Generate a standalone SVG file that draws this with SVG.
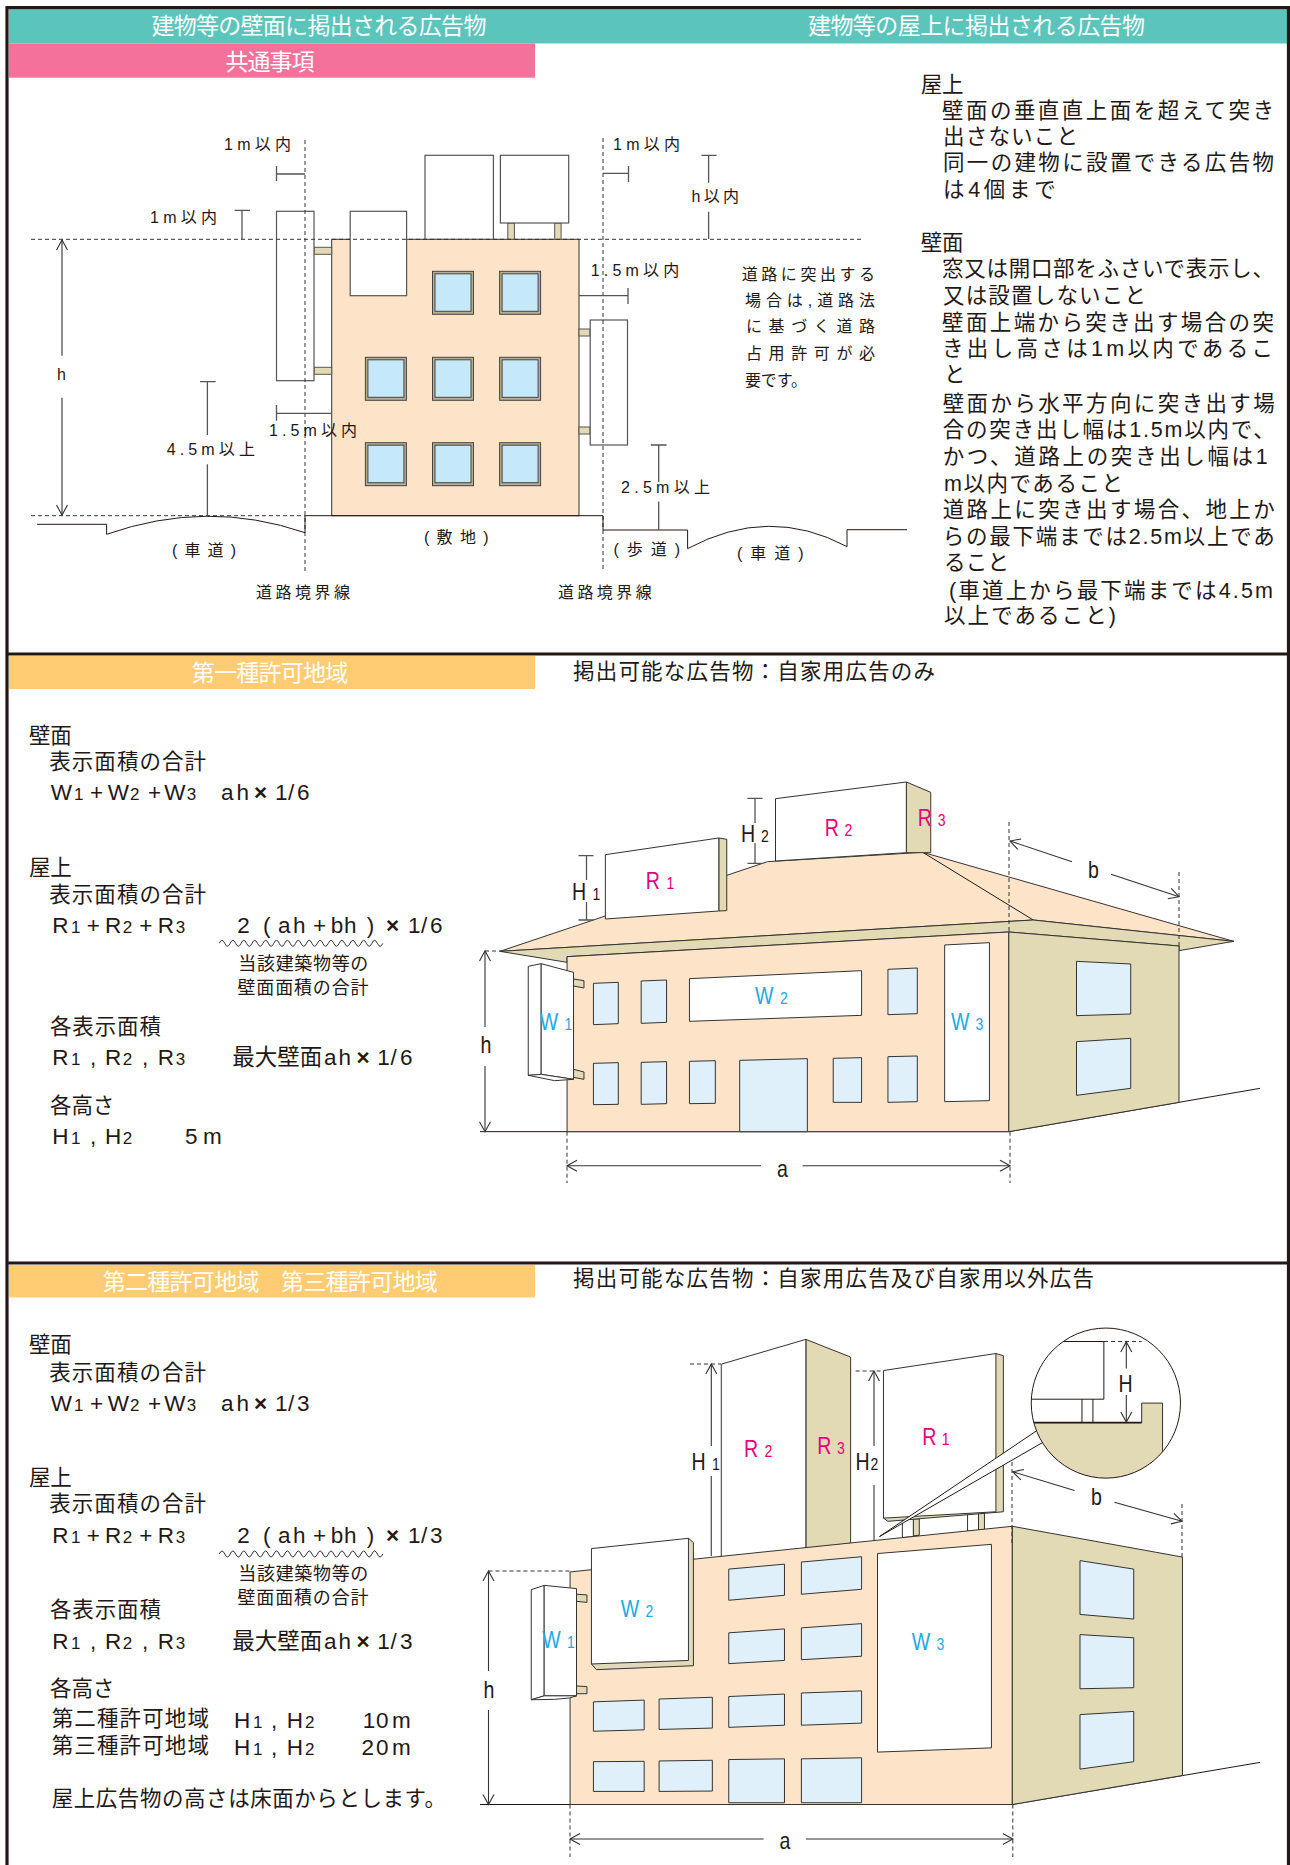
<svg xmlns="http://www.w3.org/2000/svg" width="1290" height="1865" viewBox="0 0 1290 1865">
<style>
text{font-family:"Liberation Sans","Noto Sans CJK JP",sans-serif;fill:#231815}
.hd{font-size:23px;fill:#fff;dominant-baseline:central}
.s{font-size:16px;dominant-baseline:central}
.m{font-size:21.5px;dominant-baseline:central}
.n{font-size:18px;dominant-baseline:central}
.f{font-size:22.5px}
.f tspan.d{font-size:17px}
.x{font-weight:bold}
.l{font-size:23px}
.l tspan.d{font-size:16.5px}
.mag{fill:#e5007f}.cy{fill:#1fa9e6}
.mag tspan{fill:#e5007f}.cy tspan{fill:#1fa9e6}
.ln{fill:none;stroke:#231815;stroke-width:1}
.g{fill:none;stroke:#555;stroke-width:1.3}
.ds{fill:none;stroke:#333;stroke-width:1;stroke-dasharray:4 3}
.ar{fill:none;stroke:#333;stroke-width:1.1;marker-start:url(#oa);marker-end:url(#oa)}
.ar1{fill:none;stroke:#333;stroke-width:1.1;marker-start:url(#oa)}
.ar2{fill:none;stroke:#333;stroke-width:1.1;marker-end:url(#oa)}
.iso *{vector-effect:non-scaling-stroke}
.pe{fill:#fde4c9;stroke:#333;stroke-width:1}
.ta{fill:#e2d9b5;stroke:#333;stroke-width:1}
.wh{fill:#fff;stroke:#333;stroke-width:1}
.bl{fill:#dff0fa;stroke:#333;stroke-width:1}
.pw{fill:#fff;stroke:#555;stroke-width:1.2}
</style>
<defs>
<marker id="oa" markerUnits="userSpaceOnUse" markerWidth="14" markerHeight="14" refX="11" refY="7" orient="auto-start-reverse" overflow="visible"><path d="M1 1.5L11 7L1 12.5" fill="none" stroke="#333" stroke-width="1.1"/></marker>
<g id="pwin"><rect x="0" y="0" width="41" height="43" fill="#b8ad93" stroke="#444" stroke-width="1"/><rect x="2.5" y="2.5" width="36" height="37.5" fill="#c5e9fa" stroke="#444" stroke-width="1"/></g>
<path id="sq" d="M0 0q2.72-6 5.45 0t5.45 0t5.45 0t5.45 0t5.45 0t5.45 0t5.45 0t5.45 0t5.45 0t5.45 0t5.45 0t5.45 0t5.45 0t5.45 0t5.45 0t5.45 0t5.45 0t5.45 0t5.45 0t5.45 0t5.45 0t5.45 0t5.45 0t5.45 0t5.45 0t5.45 0t5.45 0t5.45 0t5.45 0t5.45 0" fill="none" stroke="#333" stroke-width="1"/>
<clipPath id="lens"><ellipse cx="1258" cy="263" rx="150" ry="212"/></clipPath>
</defs>
<rect width="1290" height="1865" fill="#fff"/>

<g id="bands">
<rect x="9" y="9.3" width="1278" height="34.2" fill="#5bc5bc"/>
<rect x="9" y="43.5" width="526" height="34.2" fill="#f4719c"/>
<rect x="9" y="656" width="526" height="33" fill="#ffcc73"/>
<rect x="9" y="1265" width="526" height="32.5" fill="#ffcc73"/>
<text class="hd" x="151.4" y="26" textLength="335">建物等の壁面に掲出される広告物</text>
<text class="hd" x="808" y="26" textLength="337">建物等の屋上に掲出される広告物</text>
<text class="hd" x="225.5" y="61.7" textLength="89">共通事項</text>
<text class="hd" x="191.7" y="672.7" textLength="156.6">第一種許可地域</text>
<text class="hd" x="102.7" y="1281.5" textLength="335">第二種許可地域　第三種許可地域</text>
</g>
<g id="frame">
<path d="M7 1865V7.7H1288.5V1865" fill="none" stroke="#231815" stroke-width="3.2"/>
<path d="M7 654H1288.5M7 1263H1288.5" fill="none" stroke="#231815" stroke-width="3"/>
</g>

<g id="plan-building">
<rect x="331.7" y="239.3" width="247.3" height="276.4" fill="#fde4c9" stroke="#333"/>
<use href="#pwin" x="432.5" y="271.3"/><use href="#pwin" x="499.6" y="271.3"/>
<use href="#pwin" x="365.4" y="357.3"/><use href="#pwin" x="432.5" y="357.3"/><use href="#pwin" x="499.6" y="357.3"/>
<use href="#pwin" x="365.4" y="442.7"/><use href="#pwin" x="432.5" y="442.7"/><use href="#pwin" x="499.6" y="442.7"/>
</g>
<g id="plan-signs" fill="#e2d9b5" stroke="#555">
<rect x="314" y="247.3" width="17.7" height="7"/><rect x="314" y="367.3" width="17.7" height="7"/>
<rect x="579" y="329" width="11" height="7"/><rect x="579" y="427" width="11" height="7"/>
<rect x="507.8" y="223" width="6.6" height="16.3"/><rect x="554.7" y="223" width="6.4" height="16.3"/>
<rect class="pw" x="276.5" y="211.3" width="37.5" height="169.4"/>
<rect class="pw" x="350.2" y="211.3" width="56.4" height="84.4"/>
<rect class="pw" x="425" y="155.3" width="68.4" height="84"/>
<rect class="pw" x="500.4" y="155.3" width="68.3" height="67.7"/>
<rect class="pw" x="590.2" y="320" width="37.3" height="125"/>
</g>
<g id="plan-ground">
<path class="ds" d="M31 239.3H862M31 515.7H305"/>
<path class="ds" d="M305 140V573M603 138V569"/>
<path class="ln" d="M37 524.3H106.6V534.3Q207 499 305 532.7V515.7H603V530H687.6V548.6Q769 505 847 546.6V529.7H907"/>
</g>
<g id="plan-dims">
<path class="ar" d="M62 240V355.7M62 397.7V515"/>
<path class="g" d="M200 381.7H215.6M207.4 381.7V435M207.4 464.3V515.7" stroke-width="1"/>
<path class="g" d="M276.5 405V420.7M276.5 413.3H331.7"/>
<path class="g" d="M276.5 166V181M276.5 174H305"/>
<path class="g" d="M234.6 210.3H250M242 210.3V239"/>
<path class="g" d="M603 173.3H628.5M628.5 166V182"/>
<path class="g" d="M701.5 155.3H716.6M708.6 155.3V182.7M708.6 211.7V239"/>
<path class="g" d="M579 295.7H628M628 288V304"/>
<path class="g" d="M650.8 445H666.6M658.7 445V482M658.7 501.5V530"/>
</g>
<g id="plan-labels">
<text class="s" x="224" y="144" textLength="67">1m以内</text>
<text class="s" x="150" y="217" textLength="67">1m以内</text>
<text class="s" x="613" y="144" textLength="67">1m以内</text>
<text class="s" x="691.4" y="196.7" textLength="47.6">h以内</text>
<text class="s" x="590.7" y="270.7" textLength="88.5">1.5m以内</text>
<text class="s" x="269" y="430" textLength="88">1.5m以内</text>
<text class="s" x="166.7" y="449" textLength="88.3">4.5m以上</text>
<text class="s" x="621" y="487" textLength="89">2.5m以上</text>
<text class="s" x="57" y="374">h</text>
<text class="s" x="172" y="550" textLength="64">(車道)</text>
<text class="s" x="424" y="537.3" textLength="64.5">(敷地)</text>
<text class="s" x="613.5" y="549" textLength="66.5">(歩道)</text>
<text class="s" x="737" y="553" textLength="66.6">(車道)</text>
<text class="s" x="256" y="592.7" textLength="94">道路境界線</text>
<text class="s" x="558" y="592.7" textLength="93.7">道路境界線</text>
<text class="s" x="741.8" y="274.7" textLength="133.2">道路に突出する</text>
<text class="s" x="745" y="300.7" textLength="130">場合は,道路法</text>
<text class="s" x="746" y="326.7" textLength="129">に基づく道路</text>
<text class="s" x="746" y="353" textLength="129">占用許可が必</text>
<text class="s" x="745" y="380" textLength="62">要です。</text>
</g>
<g id="rules">
<text class="m" x="920.7" y="85" textLength="42.8">屋上</text>
<text class="m" x="942" y="111" textLength="332">壁面の垂直直上面を超えて突き</text>
<text class="m" x="943" y="137" textLength="135">出さないこと</text>
<text class="m" x="943" y="163" textLength="331">同一の建物に設置できる広告物</text>
<text class="m" x="943" y="190" textLength="112.7">は4個まで</text>
<text class="m" x="920.7" y="242.7" textLength="42.8">壁面</text>
<text class="m" x="942" y="269.3" textLength="332">窓又は開口部をふさいで表示し、</text>
<text class="m" x="943" y="296" textLength="203">又は設置しないこと</text>
<text class="m" x="942" y="322.7" textLength="332">壁面上端から突き出す場合の突</text>
<text class="m" x="942" y="348.7" textLength="331">き出し高さは1m以内であるこ</text>
<text class="m" x="944" y="375">と</text>
<text class="m" x="942.7" y="403.5" textLength="332">壁面から水平方向に突き出す場</text>
<text class="m" x="942.7" y="429.7" textLength="332">合の突き出し幅は1.5m以内で、</text>
<text class="m" x="942.7" y="456.7" textLength="325">かつ、道路上の突き出し幅は1</text>
<text class="m" x="944" y="483.6" textLength="179">m以内であること</text>
<text class="m" x="942.7" y="509.5" textLength="332">道路上に突き出す場合、地上か</text>
<text class="m" x="942.7" y="536.8" textLength="332">らの最下端までは2.5m以上であ</text>
<text class="m" x="944" y="563.4" textLength="65">ること</text>
<text class="m" x="949" y="590.7" textLength="324">(車道上から最下端までは4.5m</text>
<text class="m" x="944" y="616" textLength="172">以上であること)</text>
</g>

<text class="m" x="573" y="671.7" textLength="362">掲出可能な広告物：自家用広告のみ</text>
<text class="m" x="573" y="1279" textLength="521">掲出可能な広告物：自家用広告及び自家用以外広告</text>

<g id="section1-text">
<text class="m" x="29" y="736" textLength="42.7">壁面</text>
<text class="m" x="49.3" y="762.3" textLength="156.7">表示面積の合計</text>
<text class="f" y="800"><tspan x="50.7">W</tspan><tspan class="d" x="74">1</tspan><tspan x="90">+</tspan><tspan x="107.7">W</tspan><tspan class="d" x="130">2</tspan><tspan x="148">+</tspan><tspan x="164.3">W</tspan><tspan class="d" x="186.7">3</tspan><tspan x="221">a</tspan><tspan x="236.5">h</tspan><tspan class="x" x="254">×</tspan><tspan x="275">1</tspan><tspan x="288">/</tspan><tspan x="297">6</tspan></text>
<text class="m" x="29" y="868.3" textLength="42.7">屋上</text>
<text class="m" x="49.3" y="895" textLength="156.7">表示面積の合計</text>
<text class="f" y="933.3"><tspan x="52.3">R</tspan><tspan class="d" x="71">1</tspan><tspan x="86.7">+</tspan><tspan x="105">R</tspan><tspan class="d" x="122.7">2</tspan><tspan x="139.3">+</tspan><tspan x="157.7">R</tspan><tspan class="d" x="175.7">3</tspan><tspan x="237.3">2</tspan><tspan x="263">(</tspan><tspan x="278">a</tspan><tspan x="293">h</tspan><tspan x="313">+</tspan><tspan x="330.7">b</tspan><tspan x="344">h</tspan><tspan x="366.7">)</tspan><tspan class="x" x="386">×</tspan><tspan x="408">1</tspan><tspan x="421">/</tspan><tspan x="430">6</tspan></text>
<use href="#sq" x="219.3" y="943.3"/>
<text class="n" x="238.3" y="964.3" textLength="130">当該建築物等の</text>
<text class="n" x="237.5" y="987.7" textLength="131">壁面面積の合計</text>
<text class="m" x="50" y="1027.3" textLength="111">各表示面積</text>
<text class="f" y="1065"><tspan x="52.3">R</tspan><tspan class="d" x="71">1</tspan><tspan x="90">,</tspan><tspan x="105">R</tspan><tspan class="d" x="122.7">2</tspan><tspan x="142">,</tspan><tspan x="157.7">R</tspan><tspan class="d" x="175.7">3</tspan></text>
<text class="f" y="1065"><tspan x="232.3">最大壁面</tspan><tspan x="324">a</tspan><tspan x="338.5">h</tspan><tspan class="x" x="356.5">×</tspan><tspan x="377.3">1</tspan><tspan x="390.5">/</tspan><tspan x="400">6</tspan></text>
<text class="m" x="50" y="1106" textLength="64.3">各高さ</text>
<text class="f" y="1144"><tspan x="52.3">H</tspan><tspan class="d" x="71">1</tspan><tspan x="90">,</tspan><tspan x="105">H</tspan><tspan class="d" x="122.7">2</tspan><tspan x="185">5</tspan><tspan x="203">m</tspan></text>
</g>

<g id="section2-text">
<text class="m" x="29" y="1344.9" textLength="42.7">壁面</text>
<text class="m" x="49.3" y="1372.7" textLength="156.7">表示面積の合計</text>
<text class="f" y="1410.5"><tspan x="50.7">W</tspan><tspan class="d" x="74">1</tspan><tspan x="90">+</tspan><tspan x="107.7">W</tspan><tspan class="d" x="130">2</tspan><tspan x="148">+</tspan><tspan x="164.3">W</tspan><tspan class="d" x="186.7">3</tspan><tspan x="221">a</tspan><tspan x="236.5">h</tspan><tspan class="x" x="254">×</tspan><tspan x="275">1</tspan><tspan x="288">/</tspan><tspan x="297">3</tspan></text>
<text class="m" x="29" y="1478" textLength="42.7">屋上</text>
<text class="m" x="49.3" y="1504" textLength="156.7">表示面積の合計</text>
<text class="f" y="1542.8"><tspan x="52.3">R</tspan><tspan class="d" x="71">1</tspan><tspan x="86.7">+</tspan><tspan x="105">R</tspan><tspan class="d" x="122.7">2</tspan><tspan x="139.3">+</tspan><tspan x="157.7">R</tspan><tspan class="d" x="175.7">3</tspan><tspan x="237.3">2</tspan><tspan x="263">(</tspan><tspan x="278">a</tspan><tspan x="293">h</tspan><tspan x="313">+</tspan><tspan x="330.7">b</tspan><tspan x="344">h</tspan><tspan x="366.7">)</tspan><tspan class="x" x="386">×</tspan><tspan x="408">1</tspan><tspan x="421">/</tspan><tspan x="430">3</tspan></text>
<use href="#sq" x="219.3" y="1554"/>
<text class="n" x="238.3" y="1574.4" textLength="130">当該建築物等の</text>
<text class="n" x="237.5" y="1597.6" textLength="131">壁面面積の合計</text>
<text class="m" x="50" y="1610.3" textLength="111">各表示面積</text>
<text class="f" y="1648.5"><tspan x="52.3">R</tspan><tspan class="d" x="71">1</tspan><tspan x="90">,</tspan><tspan x="105">R</tspan><tspan class="d" x="122.7">2</tspan><tspan x="142">,</tspan><tspan x="157.7">R</tspan><tspan class="d" x="175.7">3</tspan></text>
<text class="f" y="1648.5"><tspan x="232.3">最大壁面</tspan><tspan x="324">a</tspan><tspan x="338.5">h</tspan><tspan class="x" x="356.5">×</tspan><tspan x="377.3">1</tspan><tspan x="390.5">/</tspan><tspan x="400">3</tspan></text>
<text class="m" x="50" y="1689.4" textLength="64.3">各高さ</text>
<text class="m" x="51.7" y="1719" textLength="157.3">第二種許可地域</text>
<text class="f" y="1727.6"><tspan x="234">H</tspan><tspan class="d" x="253">1</tspan><tspan x="271">,</tspan><tspan x="286.7">H</tspan><tspan class="d" x="305">2</tspan><tspan x="362.7">1</tspan><tspan x="376">0</tspan><tspan x="392">m</tspan></text>
<text class="m" x="51.7" y="1746" textLength="157.3">第三種許可地域</text>
<text class="f" y="1754.6"><tspan x="234">H</tspan><tspan class="d" x="253">1</tspan><tspan x="271">,</tspan><tspan x="286.7">H</tspan><tspan class="d" x="305">2</tspan><tspan x="361.5">2</tspan><tspan x="376">0</tspan><tspan x="392">m</tspan></text>
<text class="m" x="51.7" y="1799" textLength="394.3">屋上広告物の高さは床面からとします。</text>
</g>

<g id="building-1" class="iso" transform="translate(480,760) scale(.4975,.33333)">
<path class="ln" d="M0 1115H1063L1568 985"/>
<path class="pe" d="M40 574L578 305L890 277L1515 544L1112 480Z"/>
<path class="ln" d="M890 277L1112 480"/>
<path class="ta" d="M40 574L1112 480L1515 544L1405 572V558L1063 516L175 590V607Z"/>
<path class="pe" d="M175 590L1063 516V1115H175Z"/>
<path class="ta" d="M1063 516L1405 558V1027L1063 1115Z"/>
<path class="bl" d="M228 670L278 667V791L228 794Z"/><path class="bl" d="M324 663L375 660V787L324 790Z"/>
<path class="wh" d="M421 656L767 632V766L421 784Z"/>
<path class="bl" d="M820 628L879 624V761L820 764Z"/>
<path class="wh" d="M934 555L1024 548V1022L934 1025Z"/>
<path class="bl" d="M228 910L278 908V1033L228 1034Z"/><path class="bl" d="M324 907L375 905V1031L324 1033Z"/>
<path class="bl" d="M421 904L473 902V1030L421 1031Z"/><path class="bl" d="M522 901L658 896V1115H522Z"/>
<path class="bl" d="M710 895L767 893V1027L710 1027Z"/><path class="bl" d="M820 890L879 888V1025L820 1027Z"/>
<path class="bl" d="M1199 604L1308 612V762L1199 767Z"/><path class="bl" d="M1199 845L1308 835V985L1199 1006Z"/>
<g id="b1-w1"><path class="ta" d="M188 657L209 662V684L188 678Z"/><path class="ta" d="M188 928L209 936V958L188 952Z"/>
<path class="wh" d="M97 619L123 611V943L97 946Z"/><path class="wh" d="M123 611L188 637V958L123 943Z"/><path class="wh" d="M97 946L123 943L188 958L150 962Z"/></g>
<g id="b1-r1"><path class="ta" d="M480 234L496 238V452L480 453Z"/><path class="wh" d="M252 284L480 234V453L252 477Z"/></g>
<g id="b1-r2"><path class="ta" d="M857 66L906 97V278H857Z"/><path class="wh" d="M594 116L857 66V278L594 303Z"/></g>
</g>
<g id="building-1-dims">
<path class="g" d="M578.5 855.7H593.5M586.5 855.7V880M586.5 902V920M578.5 920H593.5" stroke-width="1"/>
<path class="g" d="M747.5 798.3H762.5M755 798.3V823M755 843V863.3M747.5 863.3H762.5" stroke-width="1"/>
<path class="ds" d="M485 951H500M567 1131.7V1183M1010 1131.7V1183M1009 822V932M1179 872V946"/>
<path class="ar1" d="M485 951V1027"/><path class="ar2" d="M485 1066V1131.7"/>
<path class="ar1" d="M567 1165.7H761"/><path class="ar2" d="M802.5 1165.7H1010"/>
<path class="ar1" d="M1010 841L1072 861.7"/><path class="ar2" d="M1111 874.3L1179 896.7"/>
</g>
<g id="building-1-labels">
<text class="l mag" transform="translate(645.7 888.7) scale(.85 1)">R<tspan class="d" x="24.5">1</tspan></text>
<text class="l mag" transform="translate(824.8 836) scale(.85 1)">R<tspan class="d" x="23.2">2</tspan></text>
<text class="l mag" transform="translate(917.8 826) scale(.85 1)">R<tspan class="d" x="23.4">3</tspan></text>
<text class="l cy" transform="translate(539.7 1029.7) scale(.85 1)">W<tspan class="d" x="29.2">1</tspan></text>
<text class="l cy" transform="translate(755 1003.7) scale(.85 1)">W<tspan class="d" x="29.4">2</tspan></text>
<text class="l cy" transform="translate(951 1030) scale(.85 1)">W<tspan class="d" x="28.8">3</tspan></text>
<text class="l" transform="translate(572 899.7) scale(.85 1)">H<tspan class="d" x="24">1</tspan></text>
<text class="l" transform="translate(741 842) scale(.85 1)">H<tspan class="d" x="23.5">2</tspan></text>
<text class="l" transform="translate(480.5 1053) scale(.85 1)">h</text>
<text class="l" transform="translate(777 1177) scale(.85 1)">a</text>
<text class="l" transform="translate(1088 878) scale(.85 1)">b</text>
</g>

<g id="building-2" class="iso" transform="translate(480,1310) scale(.4975,.35398)">
<path class="ln" d="M0 1397H1070L1568 1278"/>
<g id="b2-r2"><path class="ta" d="M655 83L745 133V660L655 675Z"/><path class="wh" d="M485 153L655 83V675L485 700Z"/></g>
<g id="b2-r1"><path class="ta" d="M871 590H883V636L871 638Z"/><path class="wh" d="M849 590H871V640L849 643Z"/><path class="wh" d="M980 575L1002 572V623L980 625Z"/><path class="ta" d="M1002 572H1014V620L1002 622Z"/>
<path class="ta" d="M1037 123L1052 129V570L820 597L811 588Z"/><path class="wh" d="M811 171L1037 123V570L811 588Z"/></g>
<path class="pe" d="M181 740L1070 611V1397H181Z"/>
<path class="ta" d="M1070 611L1412 698V1315L1070 1397Z"/>
<path class="bl" d="M500 732L612 718V806L500 820Z"/><path class="bl" d="M646 712L767 697V789L646 803Z"/>
<path class="bl" d="M500 912L612 901V990L500 999Z"/><path class="bl" d="M646 898L767 886V978L646 988Z"/>
<path class="bl" d="M228 1107L330 1102V1186L228 1190Z"/><path class="bl" d="M360 1099L467 1094V1181L360 1185Z"/><path class="bl" d="M500 1092L612 1085V1173L500 1179Z"/><path class="bl" d="M646 1082L767 1076V1167L646 1173Z"/>
<path class="bl" d="M228 1276L330 1275V1360H228Z"/><path class="bl" d="M360 1274L467 1272V1359L360 1360Z"/><path class="bl" d="M500 1270L612 1268V1392H500Z"/><path class="bl" d="M646 1268L767 1265V1392H646Z"/>
<path class="wh" d="M799 688L1028 662V1237L799 1249Z"/>
<path class="bl" d="M1206 708L1314 732V873L1206 860Z"/><path class="bl" d="M1206 917L1314 926V1067L1206 1070Z"/><path class="bl" d="M1206 1143L1314 1134V1276L1206 1297Z"/>
<g id="b2-w2"><path class="ta" d="M419 645L429 657V1005L234 1016L224 1000Z"/><path class="wh" d="M224 674L419 645V990L224 1000Z"/></g>
<g id="b2-w1"><path class="ta" d="M194 803L215 805V826L194 823Z"/><path class="ta" d="M194 1062L215 1064V1084H194Z"/>
<path class="wh" d="M103 790L129 778V1090L103 1101Z"/><path class="wh" d="M129 778L194 787V1090H129Z"/><path class="wh" d="M103 1101L129 1090H194L180 1096L150 1100Z"/></g>
<g id="b2-inset">
<path fill="#fff" stroke="none" d="M803 640L1118 342L1130 375Z"/>
<path class="ln" d="M1118 342L803 640L1130 375"/>
<ellipse cx="1258" cy="263" rx="150" ry="212" fill="#fff"/>
<g clip-path="url(#lens)">
<path fill="#e2d9b5" stroke="#333" d="M1100 318H1330V263H1372V480H1100Z"/>
<path class="ln" d="M1172 89H1254V252H1100M1210 252V318M1232 252V318"/>
<path fill="none" stroke="#231815" stroke-width="1.8" d="M1100 318H1330"/>
</g>
<ellipse cx="1258" cy="263" rx="150" ry="212" fill="none" stroke="#231815"/>
</g>
</g>
<g id="building-2-dims">
<path class="ds" d="M690 1364H721M855.6 1371H883.5M488.5 1571H570M570 1804.5V1857M1012.8 1804.5V1857M1012 1462V1545M1182 1504V1557M1104 1341.5H1141.6"/>
<path class="ar1" d="M711.3 1364V1446"/><path class="g" d="M711.3 1476V1556" stroke-width="1"/>
<path class="ar1" d="M874 1371V1446"/><path class="g" d="M874 1485V1540" stroke-width="1"/>
<path class="ar1" d="M488.5 1571V1671"/><path class="ar2" d="M488.5 1710V1804.5"/>
<path class="ar1" d="M570 1839H763.6"/><path class="ar2" d="M805.9 1839H1012.8"/>
<path class="ar1" d="M1012.8 1471.8L1074.5 1490.5"/><path class="ar2" d="M1114.4 1502.2L1182 1521.3"/>
<path class="ar1" d="M1126.3 1341.9V1368.4"/><path class="ar2" d="M1126.3 1395V1422"/>
</g>
<g id="building-2-labels">
<text class="l mag" transform="translate(744 1457) scale(.85 1)">R<tspan class="d" x="24">2</tspan></text>
<text class="l mag" transform="translate(817.3 1453.6) scale(.85 1)">R<tspan class="d" x="23.2">3</tspan></text>
<text class="l mag" transform="translate(922.3 1445.4) scale(.85 1)">R<tspan class="d" x="22.8">1</tspan></text>
<text class="l cy" transform="translate(620.8 1617) scale(.85 1)">W<tspan class="d" x="29">2</tspan></text>
<text class="l cy" transform="translate(542.2 1648) scale(.85 1)">W<tspan class="d" x="29.2">1</tspan></text>
<text class="l cy" transform="translate(911.8 1650) scale(.85 1)">W<tspan class="d" x="29">3</tspan></text>
<text class="l" transform="translate(691.4 1469.5) scale(.85 1)">H<tspan class="d" x="24.2">1</tspan></text>
<text class="l" transform="translate(855.6 1469.5) scale(.85 1)">H<tspan class="d" x="17.5">2</tspan></text>
<text class="l" transform="translate(483.5 1697.7) scale(.85 1)">h</text>
<text class="l" transform="translate(779.5 1849) scale(.85 1)">a</text>
<text class="l" transform="translate(1091 1505) scale(.85 1)">b</text>
<text class="l" transform="translate(1118.5 1392) scale(.85 1)">H</text>
</g>
</svg>
